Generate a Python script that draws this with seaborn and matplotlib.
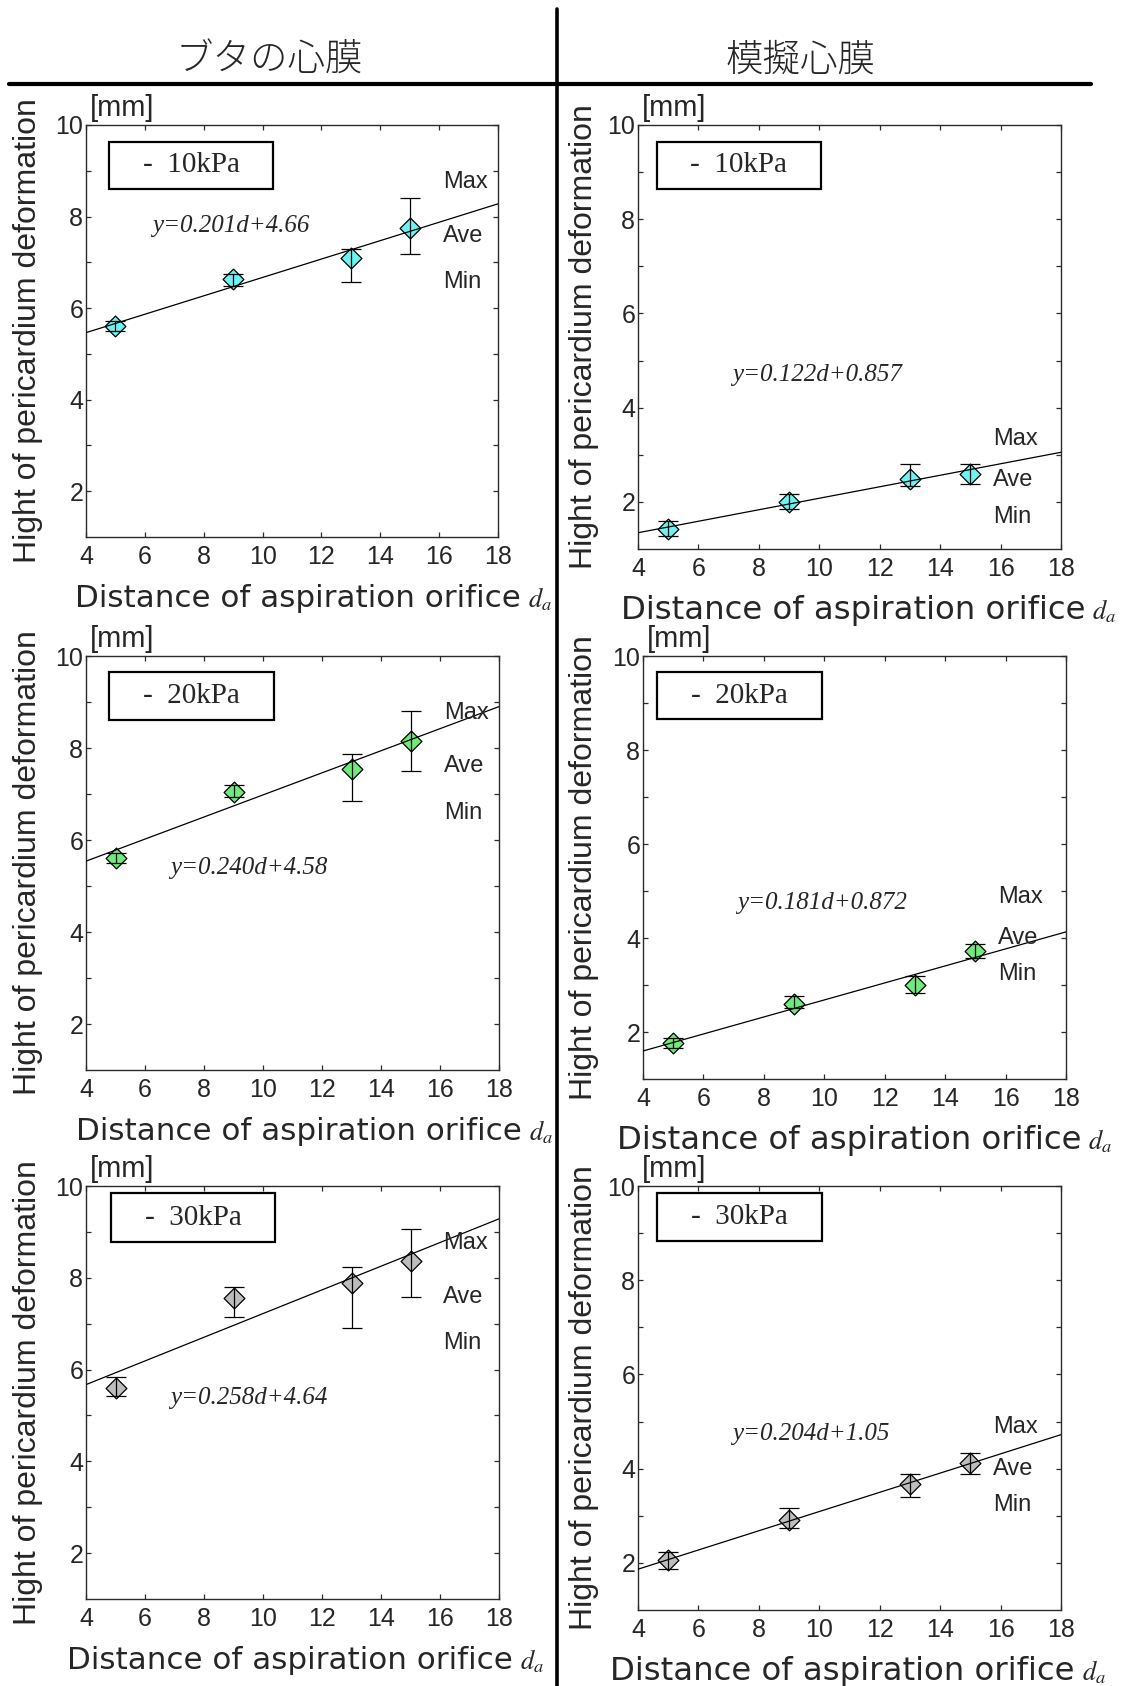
import matplotlib
matplotlib.use("Agg")
import matplotlib.pyplot as plt
import seaborn as sns
import pandas as pd
from matplotlib.patches import Rectangle
from matplotlib.lines import Line2D
from matplotlib.ticker import FixedLocator

# ---------------- data ----------------
distances = [5, 9, 13, 15]
column_titles = ["ブタの心膜", "模擬心膜"]
pressure_labels = ["-  10kPa", "-  20kPa", "-  30kPa"]
range_labels = ["Max", "Ave", "Min"]
x_ticks = [4, 6, 8, 10, 12, 14, 16, 18]
y_ticks = [2, 4, 6, 8, 10]

# pig pericardium
pig_10_ave = [5.62, 6.63, 7.10, 7.76]
pig_10_max = [5.72, 6.75, 7.30, 8.40]
pig_10_min = [5.50, 6.49, 6.56, 7.19]
pig_20_ave = [5.61, 7.05, 7.54, 8.15]
pig_20_max = [5.72, 7.20, 7.87, 8.81]
pig_20_min = [5.51, 6.94, 6.84, 7.51]
pig_30_ave = [5.60, 7.56, 7.88, 8.37]
pig_30_max = [5.84, 7.79, 8.24, 9.07]
pig_30_min = [5.42, 7.15, 6.90, 7.59]

# artificial pericardium
model_10_ave = [1.42, 1.99, 2.49, 2.60]
model_10_max = [1.59, 2.16, 2.81, 2.81]
model_10_min = [1.27, 1.84, 2.33, 2.39]
model_20_ave = [1.76, 2.60, 3.00, 3.73]
model_20_max = [1.88, 2.77, 3.19, 3.88]
model_20_min = [1.67, 2.52, 2.82, 3.57]
model_30_ave = [2.06, 2.92, 3.67, 4.11]
model_30_max = [2.23, 3.17, 3.88, 4.34]
model_30_min = [1.88, 2.74, 3.40, 3.88]

# linear fits (slope, intercept) and their printed equations
pig_slopes = [0.201, 0.240, 0.258]
pig_intercepts = [4.66, 4.58, 4.64]
pig_equations = ["y=0.201d+4.66", "y=0.240d+4.58", "y=0.258d+4.64"]
model_slopes = [0.122, 0.181, 0.204]
model_intercepts = [0.857, 0.872, 1.05]
model_equations = ["y=0.122d+0.857", "y=0.181d+0.872", "y=0.204d+1.05"]

marker_colors = ["#6DF3F3", "#6EEB7A", "#BDBDBD"]

# ---------------- styling ----------------
sns.set_theme(style="ticks")
plt.rcParams["font.family"] = ["Liberation Sans", "DejaVu Sans"]
plt.rcParams["mathtext.fontset"] = "stix"
plt.rcParams["axes.edgecolor"] = "#2b2b2b"
plt.rcParams["axes.linewidth"] = 1.0

W, H = 1133, 1686
fig = plt.figure(figsize=(W / 100, H / 100), dpi=100)
fig.patch.set_facecolor("white")

# axes frames in pixels: left, top, right, bottom
panel_boxes = [
    [(86, 125, 498, 537), (638, 125, 1061, 549)],
    [(86, 656, 499, 1070), (643, 656, 1066, 1079)],
    [(86, 1186, 499, 1599), (638, 1186, 1061, 1610)],
]
# pressure box in axes fractions: x0, x1, y0, y1
pressure_boxes = [
    [(0.056, 0.454, 0.845, 0.959), (0.044, 0.433, 0.848, 0.961)],
    [(0.056, 0.455, 0.845, 0.962), (0.032, 0.422, 0.850, 0.963)],
    [(0.060, 0.458, 0.865, 0.982), (0.046, 0.434, 0.870, 0.983)],
]
equation_pos = [
    [(8.92, 7.80), (9.94, 4.70)],
    [(9.53, 5.40), (9.93, 4.745)],
    [(9.52, 5.38), (9.72, 4.73)],
]
range_label_pos = [
    [(16.13, [8.76, 7.58, 6.56]), (15.75, [3.34, 2.46, 1.68])],
    [(16.14, [8.76, 7.60, 6.58]), (15.74, [4.87, 4.00, 3.23])],
    [(16.11, [8.75, 7.59, 6.57]), (15.74, [4.89, 4.00, 3.22])],
]
xlabel_left = [[75, 621], [76, 617], [67, 610]]
ylabel_baseline_x = [36, 592]

pig_sets = [(pig_10_ave, pig_10_max, pig_10_min),
            (pig_20_ave, pig_20_max, pig_20_min),
            (pig_30_ave, pig_30_max, pig_30_min)]
model_sets = [(model_10_ave, model_10_max, model_10_min),
              (model_20_ave, model_20_max, model_20_min),
              (model_30_ave, model_30_max, model_30_min)]
fits = [list(zip(pig_slopes, pig_intercepts, pig_equations)),
        list(zip(model_slopes, model_intercepts, model_equations))]
series = [pig_sets, model_sets]

renderer = fig.canvas.get_renderer()

for row in range(3):
    for col in range(2):
        l, t, r, b = panel_boxes[row][col]
        ax = fig.add_axes([l / W, 1 - b / H, (r - l) / W, (b - t) / H])
        ave, vmax, vmin = series[col][row]
        slope, intercept, eq_text = fits[col][row]

        df = pd.DataFrame({"d": distances, "ave": ave, "max": vmax, "min": vmin})

        # fitted line across the full distance range
        line_x = [x_ticks[0], x_ticks[-1]]
        line_df = pd.DataFrame({"d": line_x,
                                "h": [slope * v + intercept for v in line_x]})
        sns.lineplot(data=line_df, x="d", y="h", color="black", linewidth=0.9,
                     ax=ax, zorder=3)

        sns.scatterplot(data=df, x="d", y="ave", marker="D", s=112,
                        color=marker_colors[row], edgecolor="black",
                        linewidth=0.9, ax=ax, zorder=2)

        ax.errorbar(df["d"], df["ave"],
                    yerr=[df["ave"] - df["min"], df["max"] - df["ave"]],
                    fmt="none", ecolor="black", elinewidth=0.9, capsize=7.4,
                    capthick=0.9, zorder=4)

        ax.set_xlim(4, 18)
        ax.set_ylim(1, 10)
        ax.set_xticks(x_ticks)
        ax.set_yticks(y_ticks)
        ax.yaxis.set_minor_locator(FixedLocator([3, 5, 7, 9]))
        ax.set_xlabel("")
        ax.set_ylabel("")
        ax.tick_params(which="both", direction="in", top=True, right=True,
                       length=3.8, width=0.9, color="#2b2b2b")
        ax.tick_params(axis="x", labelsize=18, pad=6)
        ax.tick_params(axis="y", labelsize=18, pad=2)
        for s in ax.spines.values():
            s.set_visible(True)

        # pressure box
        x0, x1, y0, y1 = pressure_boxes[row][col]
        ax.add_patch(Rectangle((x0, y0), x1 - x0, y1 - y0, transform=ax.transAxes,
                               facecolor="white", edgecolor="black",
                               linewidth=1.6, zorder=5))
        ax.text((x0 + x1) / 2, (y0 + y1) / 2, pressure_labels[row],
                transform=ax.transAxes, ha="center", va="center",
                family=["Liberation Serif", "DejaVu Serif"], fontsize=21, zorder=6)

        # fit equation
        ex, ey = equation_pos[row][col]
        ax.text(ex, ey, eq_text, ha="center", va="center", fontsize=18,
                family=["Liberation Serif", "DejaVu Serif"], style="italic")

        # Max / Ave / Min
        lx, lys = range_label_pos[row][col]
        for lab, ly in zip(range_labels, lys):
            ax.text(lx, ly, lab, ha="left", va="center", fontsize=17)

        # unit label
        fig.text((l + 4) / W, 1 - (t - 3) / H, "[mm]", ha="left", va="bottom",
                 fontsize=21)

        # y label
        fig.text(ylabel_baseline_x[col] / W, 1 - ((t + b) / 2) / H,
                 "Hight of pericardium deformation", rotation=90,
                 rotation_mode="anchor", ha="center", va="baseline", fontsize=23)

        # x label with italic symbol
        xl = fig.text(xlabel_left[row][col] / W, 1 - (b + 70) / H,
                      "Distance of aspiration orifice", ha="left", va="baseline",
                      family=["DejaVu Sans"], fontsize=22.3 if col == 0 else 23.3)
        bb = xl.get_window_extent(renderer=renderer)
        fig.text((bb.x1 + 7) / W, 1 - (b + 70) / H, r"$d_a$", ha="left",
                 va="baseline", fontsize=19)

# column headings
for cx, title in zip([269, 801], column_titles):
    fig.text(cx / W, 1 - 60 / H, title, ha="center", va="center", fontsize=27,
             family=["Noto Sans CJK JP", "DejaVu Sans"], fontweight="light")

# separator lines
fig.add_artist(Line2D([9 / W, 1091 / W], [1 - 84 / H, 1 - 84 / H],
                      transform=fig.transFigure, color="black", linewidth=3.0))
fig.add_artist(Line2D([557 / W, 557 / W], [1 - 9 / H, 0],
                      transform=fig.transFigure, color="black", linewidth=2.6))

fig.savefig("out.png", dpi=100, facecolor="white")
